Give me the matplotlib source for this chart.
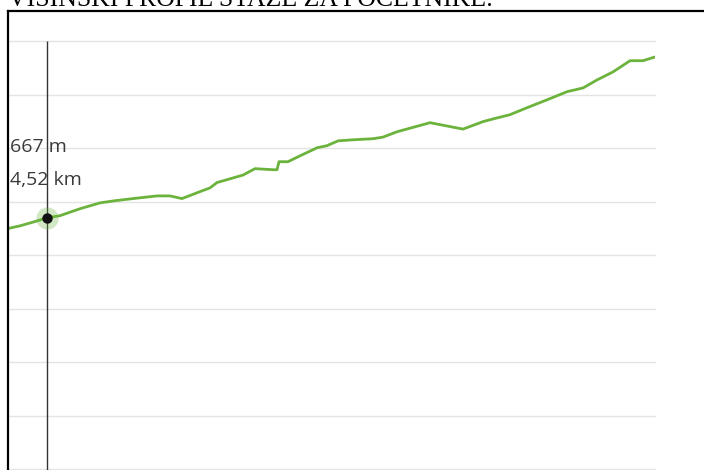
import numpy as np
import matplotlib.pyplot as plt
from matplotlib.lines import Line2D

# distance [km] and elevation [m]
dist_km = [4.13, 4.25, 4.40, 4.52, 4.65, 4.85, 5.05, 5.20, 5.38, 5.62, 5.75, 5.87,
           6.05, 6.15, 6.22, 6.35, 6.48, 6.60, 6.78, 6.82, 6.84, 6.93, 7.05, 7.22,
           7.32, 7.43, 7.58, 7.78, 7.88, 8.02, 8.35, 8.68, 8.88, 8.98, 9.15, 9.32,
           9.55, 9.72, 9.88, 10.02, 10.18, 10.35, 10.48, 10.60]
elev_m = [665.0, 665.5, 666.3, 667.0, 667.4, 668.7, 669.8, 670.2, 670.6, 671.1, 671.1, 670.6,
          671.9, 672.6, 673.6, 674.3, 675.0, 676.2, 676.0, 676.0, 677.5, 677.5, 678.6, 680.1,
          680.5, 681.4, 681.6, 681.8, 682.1, 683.1, 684.8, 683.6, 685.0, 685.5, 686.3, 687.6,
          689.3, 690.6, 691.3, 692.8, 694.3, 696.4, 696.4, 697.1]
grid_m = [620, 630, 640, 650, 660, 670, 680, 690, 700]

hover_km = 4.52
hover_m = 667

W, H = 704, 470
fig = plt.figure(figsize=(W / 100, H / 100), dpi=100)
ax = fig.add_axes([8 / W, 1 / H, 647 / W, 458 / H])
ax.set_xlim(dist_km[0], dist_km[-1])
ax.set_ylim(620, 705.7)
ax.axis('off')

for g in grid_m:
    ax.axhline(g, color='#e4e4e4', lw=1, zorder=1, clip_on=False)

ax.plot(dist_km, elev_m, color='#6bb33c', lw=2.0, zorder=3, solid_capstyle='round')

# hover cursor
ax.vlines(hover_km, 619, 700, color='#333333', lw=1, zorder=2, clip_on=False)
ax.plot(hover_km, hover_m, 'o', ms=16, color='#6bb33c', alpha=0.3, mec='none', zorder=4)
ax.plot(hover_km, hover_m, 'o', ms=7.5, color='#111111', mec='none', zorder=5)

fig.text(10 / W, 1 - 147 / H, f'{hover_m} m', fontsize=14, family='Open Sans',
         color='#3a3a3a', ha='left', va='center')
fig.text(10 / W, 1 - 180 / H, '4,52 km', fontsize=14, family='Open Sans',
         color='#3a3a3a', ha='left', va='center')

# page frame and clipped heading
fig.add_artist(Line2D([8 / W, 8 / W], [0, 1 - 11 / H], color='black', lw=1.6,
                      transform=fig.transFigure))
fig.add_artist(Line2D([8 / W, 1], [1 - 11 / H, 1 - 11 / H], color='black', lw=1.6,
                      transform=fig.transFigure))
fig.text(8 / W, 1 - 6 / H, 'VISINSKI PROFIL STAZE ZA POCETNIKE:', fontsize=18.5,
         family='Liberation Serif', color='black', ha='left', va='baseline')

plt.savefig('out.png', dpi=100)
